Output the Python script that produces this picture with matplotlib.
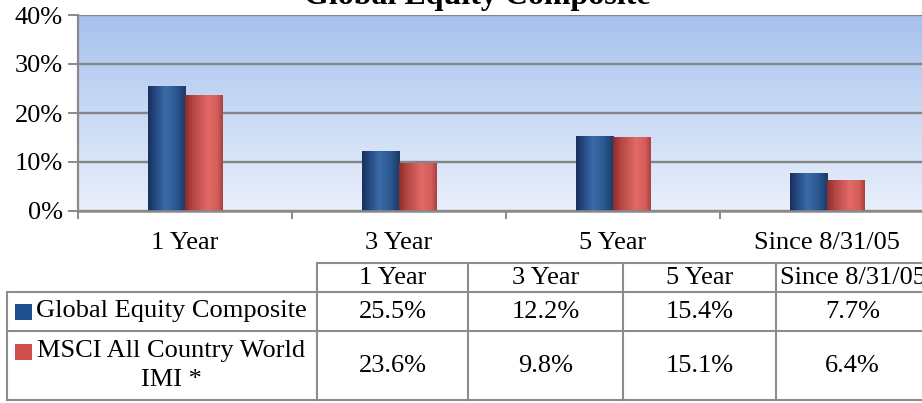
import numpy as np
import matplotlib
matplotlib.use("Agg")
import matplotlib.pyplot as plt
from matplotlib.colors import LinearSegmentedColormap
from matplotlib.patches import Rectangle
from matplotlib.lines import Line2D

plt.rcParams['font.family'] = ['Liberation Serif', 'DejaVu Serif']

# ---- data ----
title = "Global Equity Composite"
categories = ["1 Year", "3 Year", "5 Year", "Since 8/31/05"]
series_names = ["Global Equity Composite", "MSCI All Country World\nIMI *"]
composite = [25.5, 12.2, 15.4, 7.7]
msci = [23.6, 9.8, 15.1, 6.4]
yticks = [0, 10, 20, 30, 40]
ytick_labels = ["0%", "10%", "20%", "30%", "40%"]

W, H = 922, 403
fig = plt.figure(figsize=(W / 100, H / 100), dpi=100)

def fx(px):
    return px / W

def fy(py):
    return 1 - py / H

fs = 19

ax_left, ax_right, ax_top, ax_bot = 78, 934, 15, 211
ax = fig.add_axes([fx(ax_left), fy(ax_bot), fx(ax_right - ax_left), (ax_bot - ax_top) / H])
ax.set_xlim(-0.5, len(categories) - 0.5)
ax.set_ylim(0, 40)

# background gradient
bg = LinearSegmentedColormap.from_list("bg", ["#e9effb", "#c9daf5", "#a5c1ec"])
grad = np.linspace(0, 1, 256).reshape(-1, 1)
ax.imshow(grad, cmap=bg, origin="lower", aspect="auto",
          extent=(*ax.get_xlim(), *ax.get_ylim()), zorder=0)
ax.set_xlim(-0.5, len(categories) - 0.5)
ax.set_ylim(0, 40)

# gridlines
ax.set_yticks(yticks)
ax.set_yticklabels(ytick_labels, fontsize=fs)
ax.yaxis.grid(True, color="#858585", linewidth=1.7, zorder=1)
ax.set_axisbelow(True)

x = np.arange(len(categories))
bw = 0.173
b1 = ax.bar(x - bw / 2, composite, bw, color="#2a528a", zorder=2, linewidth=0)
b2 = ax.bar(x + bw / 2, msci, bw, color="#c9504d", zorder=2, linewidth=0)

blue_cm = LinearSegmentedColormap.from_list(
    "b", [(0, "#17305a"), (0.15, "#21447a"), (0.45, "#3c6ba8"), (0.75, "#2b5891"), (1, "#1b3966")])
red_cm = LinearSegmentedColormap.from_list(
    "r", [(0, "#8a2d2b"), (0.2, "#b34542"), (0.6, "#e06a67"), (0.85, "#d65d5a"), (1, "#a84240")])
hgrad = np.linspace(0, 1, 128).reshape(1, -1)
for bars, cm in ((b1, blue_cm), (b2, red_cm)):
    for p in bars:
        x0, y0 = p.get_x(), p.get_y()
        w, h = p.get_width(), p.get_height()
        im = ax.imshow(hgrad, cmap=cm, aspect="auto",
                       extent=(x0, x0 + w, y0, y0 + h), zorder=2.5)
        im.set_clip_path(p)
ax.set_xlim(-0.5, len(categories) - 0.5)
ax.set_ylim(0, 40)

# axes styling
for s in ["top", "right"]:
    ax.spines[s].set_visible(False)
ax.spines["left"].set_color("#8a8a8a")
ax.spines["left"].set_linewidth(1.6)
ax.spines["bottom"].set_color("#8a8a8a")
ax.spines["bottom"].set_linewidth(1.8)
ax.tick_params(axis="y", length=7, width=1.4, color="#8a8a8a", pad=4)
ax.set_xticks(x)
ax.set_xticklabels(categories, fontsize=fs)
ax.tick_params(axis="x", length=0, pad=15)
ax.set_xticks(np.arange(len(categories) + 1) - 0.5, minor=True)
ax.tick_params(axis="x", which="minor", length=6, width=1.4, color="#8a8a8a")

# title (clipped at top as in reference)
fig.text(fx(477), fy(4), title, fontsize=23, fontweight="bold",
         ha="center", va="baseline")

# ---- data table ----
col_edges = [317, 468, 623, 776, 929]
label_left = 7
row_edges = [263, 292, 331, 400]
lc = "#8c8c8c"
lw = 1.5

def hline(y, x0, x1):
    fig.add_artist(Line2D([fx(x0), fx(x1)], [fy(y), fy(y)], color=lc, lw=lw))

def vline(xp, y0, y1):
    fig.add_artist(Line2D([fx(xp), fx(xp)], [fy(y0), fy(y1)], color=lc, lw=lw))

hline(row_edges[0], col_edges[0], col_edges[-1])
for yy in row_edges[1:]:
    hline(yy, label_left, col_edges[-1])
vline(label_left, row_edges[1], row_edges[3])
for xe in col_edges[:-1]:
    vline(xe, row_edges[0], row_edges[3])

for i, c in enumerate(categories):
    cx = (col_edges[i] + col_edges[i + 1]) / 2
    fig.text(fx(cx), fy((row_edges[0] + row_edges[1]) / 2 + 1), c, fontsize=fs,
             ha="center", va="center")

table_vals = [composite, msci]
colors = ["#1f4e8c", "#cf4f4c"]
sq_tops = [304, 344]
for r in range(2):
    yc = (row_edges[r + 1] + row_edges[r + 2]) / 2
    for i, v in enumerate(table_vals[r]):
        cx = (col_edges[i] + col_edges[i + 1]) / 2
        fig.text(fx(cx), fy(yc + 1), f"{v:.1f}%", fontsize=fs, ha="center", va="center")
    # legend key
    fig.add_artist(Rectangle((fx(15), fy(sq_tops[r] + 16)), fx(17), 16 / H,
                             facecolor=colors[r], edgecolor="none"))
    fig.text(fx(171), fy(yc), series_names[r], fontsize=fs, ha="center",
             va="center", multialignment="center", linespacing=1.4)

fig.savefig("out.png", dpi=100)
